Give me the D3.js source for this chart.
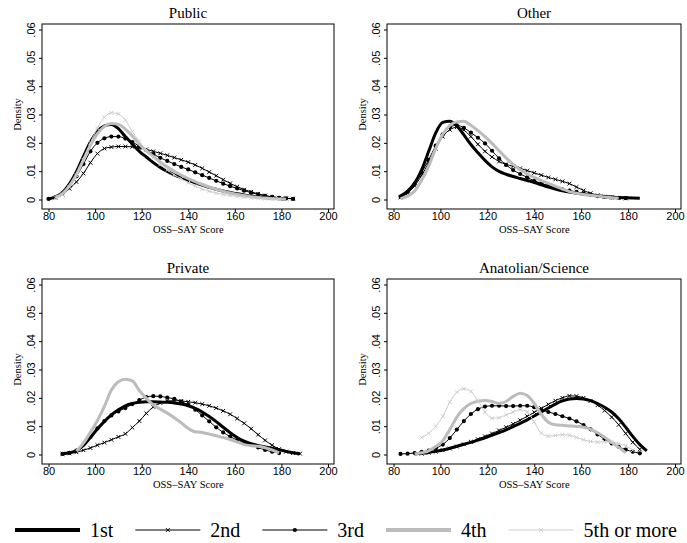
<!DOCTYPE html>
<html>
<head>
<meta charset="utf-8">
<script src="https://cdn.jsdelivr.net/npm/d3@7"></script>
<style>
  body { margin: 0; background: #fff; }
  svg { display: block; font-family: "Liberation Serif", "Times New Roman", serif; }
</style>
</head>
<body>
<script>
// kernel density of OSS-SAY score by school type and attempt number
const W = 687, H = 543;

// evaluation points (score), shared by every series; null = outside series range
const GRID = [80, 83, 86, 89, 92, 95, 98, 101, 104, 107, 110, 113, 116, 119, 122, 125, 128, 131, 134, 137,
              140, 143, 146, 149, 152, 155, 158, 161, 164, 167, 170, 173, 176, 179, 182, 185, 188];

const panelTitles = ["Public", "Other", "Private", "Anatolian/Science"];
const seriesLabels = ["1st", "2nd", "3rd", "4th", "5th or more"];
const xTicks = [80, 100, 120, 140, 160, 180, 200];
const yTicks = [0, 0.01, 0.02, 0.03, 0.04, 0.05, 0.06];
const yTickLabels = ["0", ".01", ".02", ".03", ".04", ".05", ".06"];

// ── Public ────────────────────────────────────────────────────────────────
const public1 = [.0002,.0009,.0024,.0055,.0098,.0152,.0203,.0240,.0260,.0265,.0250,.0222,.0196,.0170,.0150,.0130,.0113,.0099,.0087,.0077,.0068,.0059,.0051,.0043,.0036,.0030,.0025,.0020,.0016,.0012,.0009,.0007,.0005,.0003,.0002,null,null];
const public2 = [null,.0006,.0018,.0038,.0062,.0092,.0130,.0162,.0180,.0185,.0187,.0187,.0186,.0182,.0177,.0170,.0163,.0156,.0148,.0140,.0132,.0122,.0110,.0097,.0084,.0070,.0057,.0045,.0035,.0027,.0020,.0014,.0009,.0006,.0004,.0003,null];
const public3 = [.0002,.0008,.0022,.0047,.0082,.0125,.0170,.0200,.0216,.0222,.0222,.0215,.0203,.0188,.0174,.0160,.0147,.0136,.0125,.0115,.0106,.0096,.0086,.0076,.0066,.0056,.0047,.0039,.0031,.0024,.0018,.0013,.0009,.0006,.0004,.0002,null];
const public4 = [null,.0008,.0021,.0048,.0088,.0140,.0192,.0232,.0258,.0268,.0265,.0248,.0224,.0195,.0172,.0152,.0132,.0115,.0100,.0086,.0074,.0063,.0053,.0044,.0036,.0029,.0023,.0018,.0014,.0010,.0007,.0005,.0003,.0002,.0001,null,null];
const public5 = [null,.0006,.0018,.0044,.0085,.0140,.0200,.0252,.0290,.0306,.0302,.0280,.0240,.0205,.0175,.0148,.0124,.0104,.0087,.0073,.0059,.0047,.0037,.0029,.0023,.0018,.0014,.0011,.0008,.0006,.0004,.0003,.0002,.0001,null,null,null];

// ── Other ─────────────────────────────────────────────────────────────────
const other1 = [null,.0012,.0030,.0058,.0105,.0170,.0235,.0272,.0276,.0260,.0228,.0194,.0165,.0138,.0115,.0099,.0089,.0081,.0074,.0067,.0060,.0052,.0044,.0037,.0031,.0026,.0022,.0019,.0016,.0013,.0011,.0009,.0007,.0006,.0005,.0004,null];
const other2 = [null,.0008,.0022,.0048,.0085,.0130,.0180,.0222,.0246,.0255,.0245,.0222,.0195,.0170,.0150,.0134,.0124,.0117,.0110,.0102,.0094,.0086,.0078,.0071,.0064,.0056,.0044,.0032,.0022,.0015,.0010,.0007,.0005,.0004,null,null,null];
const other3 = [null,.0010,.0026,.0055,.0095,.0140,.0190,.0230,.0255,.0262,.0253,.0236,.0218,.0198,.0172,.0145,.0122,.0104,.0090,.0078,.0066,.0057,.0049,.0042,.0036,.0031,.0027,.0022,.0017,.0012,.0009,.0007,.0006,.0005,null,null,null];
const other4 = [null,.0003,.0012,.0030,.0068,.0118,.0180,.0230,.0262,.0274,.0276,.0262,.0243,.0222,.0198,.0172,.0147,.0124,.0105,.0090,.0078,.0067,.0057,.0047,.0037,.0028,.0022,.0018,.0015,.0012,.0009,.0006,.0004,null,null,null,null];

// ── Private ───────────────────────────────────────────────────────────────
const private1 = [null,null,.0002,.0006,.0014,.0032,.0060,.0090,.0117,.0140,.0158,.0172,.0180,.0184,.0186,.0186,.0185,.0184,.0182,.0178,.0172,.0163,.0150,.0134,.0116,.0096,.0077,.0060,.0047,.0038,.0032,.0027,.0022,.0017,.0011,.0006,.0003];
const private2 = [null,null,.0002,.0004,.0008,.0015,.0023,.0033,.0042,.0052,.0062,.0073,.0095,.0118,.0145,.0168,.0182,.0189,.0190,.0189,.0186,.0183,.0178,.0172,.0164,.0154,.0142,.0127,.0110,.0091,.0070,.0050,.0033,.0019,.0010,.0005,.0003];
const private3 = [null,null,.0002,.0006,.0014,.0035,.0062,.0092,.0118,.0138,.0152,.0164,.0178,.0192,.0203,.0206,.0205,.0201,.0196,.0187,.0175,.0158,.0138,.0117,.0096,.0078,.0063,.0051,.0042,.0034,.0025,.0016,.0010,.0005,null,null,null];
const private4 = [null,null,null,null,.0012,.0040,.0078,.0120,.0170,.0228,.0257,.0266,.0260,.0226,.0198,.0175,.0160,.0146,.0130,.0112,.0092,.0080,.0078,.0072,.0066,.0060,.0053,.0044,.0035,.0031,.0029,.0024,.0016,.0006,null,null,null];

// ── Anatolian/Science ─────────────────────────────────────────────────────
const anat1 = [null,null,null,.0002,.0004,.0007,.0011,.0016,.0022,.0029,.0036,.0043,.0051,.0059,.0068,.0077,.0087,.0098,.0110,.0122,.0136,.0150,.0164,.0178,.0189,.0196,.0198,.0196,.0190,.0180,.0167,.0150,.0126,.0096,.0064,.0035,.0013];
const anat2 = [null,null,null,null,.0003,.0006,.0010,.0015,.0021,.0028,.0036,.0045,.0054,.0064,.0074,.0085,.0096,.0108,.0121,.0135,.0149,.0163,.0177,.0190,.0200,.0207,.0206,.0200,.0189,.0174,.0155,.0132,.0105,.0074,.0043,.0018,null];
const anat3 = [null,.0002,.0003,.0005,.0009,.0014,.0022,.0035,.0058,.0088,.0118,.0143,.0160,.0169,.0172,.0172,.0171,.0171,.0172,.0172,.0167,.0158,.0150,.0143,.0135,.0127,.0117,.0104,.0089,.0071,.0054,.0039,.0027,.0017,.0010,.0004,null];
const anat4 = [null,null,null,.0002,.0006,.0013,.0028,.0048,.0088,.0132,.0162,.0180,.0188,.0191,.0187,.0180,.0187,.0205,.0216,.0208,.0180,.0142,.0114,.0105,.0103,.0101,.0099,.0096,.0089,.0077,.0061,.0043,.0025,.0006,null,null,null];
const anat5 = [null,null,null,null,.0060,.0075,.0100,.0135,.0185,.0220,.0232,.0222,.0190,.0150,.0128,.0130,.0140,.0150,.0158,.0150,.0115,.0075,.0065,.0067,.0070,.0068,.0060,.0052,.0046,.0044,.0045,.0044,.0038,.0030,.0015,null,null];

// one entry per panel, series in legend order (null = group not shown)
const panelSeries = [
    [public1, public2, public3, public4, public5],
    [other1, other2, other3, other4, null],
    [private1, private2, private3, private4, null],
    [anat1, anat2, anat3, anat4, anat5],
];

const STYLES = [
    { stroke: "#000",    width: 3,   marker: null },
    { stroke: "#000",    width: 1,   marker: "x" },
    { stroke: "#000",    width: 1,   marker: "dot" },
    { stroke: "#bcbcbc", width: 3,   marker: null },
    { stroke: "#cdcdcd", width: 1,   marker: "x" },
];

// plot-region boxes
const COLS = [{ x0: 42, x1: 334 }, { x0: 387, x1: 681 }];
const ROWS = [{ y0: 24, y1: 209 }, { y0: 279, y1: 464 }];

const svg = d3.select("body").append("svg")
    .attr("width", W).attr("height", H);

function drawMarkers(g, pts, style) {
    if (style.marker === "dot") {
        g.selectAll("circle").data(pts).join("circle")
            .attr("cx", d => d[0]).attr("cy", d => d[1])
            .attr("r", 2.1).attr("fill", style.stroke);
    } else if (style.marker === "x") {
        const s = 1.9;
        g.selectAll("path.mk").data(pts).join("path")
            .attr("class", "mk")
            .attr("d", d => `M${d[0]-s},${d[1]-s}L${d[0]+s},${d[1]+s}M${d[0]-s},${d[1]+s}L${d[0]+s},${d[1]-s}`)
            .attr("stroke", style.stroke).attr("stroke-width", 1).attr("fill", "none");
    }
}

panelTitles.forEach((title, p) => {
    const col = COLS[p % 2], row = ROWS[Math.floor(p / 2)];
    const x = d3.scaleLinear().domain([80, 200]).range([col.x0 + 6.5, col.x1 - 6]);
    const y = d3.scaleLinear().domain([0, 0.06]).range([row.y1 - 9.5, row.y0 + 5.5]);
    const g = svg.append("g");

    // y axis
    const ya = g.append("g").attr("transform", `translate(${col.x0},0)`)
        .call(d3.axisLeft(y).tickValues(yTicks).tickSize(3).tickFormat((d, i) => yTickLabels[i]));
    ya.select(".domain").remove();
    ya.selectAll(".tick line").attr("stroke", "#000");
    ya.selectAll(".tick text")
        .attr("x", 0).attr("y", 0).attr("dy", 0)
        .attr("transform", "translate(-7,0) rotate(-90)")
        .attr("text-anchor", "middle")
        .attr("font-size", 11).attr("font-family", null).attr("fill", "#000");

    // x axis
    const xa = g.append("g").attr("transform", `translate(0,${row.y1})`)
        .call(d3.axisBottom(x).tickValues(xTicks).tickSize(3));
    xa.select(".domain").remove();
    xa.selectAll(".tick line").attr("stroke", "#000");
    xa.selectAll(".tick text")
        .attr("y", 11).attr("dy", 0)
        .attr("font-size", 11).attr("font-family", null).attr("fill", "#000");

    // frame
    g.append("rect")
        .attr("x", col.x0).attr("y", row.y0)
        .attr("width", col.x1 - col.x0).attr("height", row.y1 - row.y0)
        .attr("fill", "none").attr("stroke", "#000").attr("stroke-width", 1);

    // titles
    g.append("text")
        .attr("x", (col.x0 + col.x1) / 2).attr("y", row.y0 - 6)
        .attr("text-anchor", "middle").attr("font-size", 15)
        .text(title);
    g.append("text")
        .attr("x", (x.range()[0] + x.range()[1]) / 2).attr("y", row.y1 + 23.5)
        .attr("text-anchor", "middle").attr("font-size", 10.5)
        .text("OSS\u2013SAY Score");
    const yMid = (y.range()[0] + y.range()[1]) / 2;
    g.append("text")
        .attr("transform", `translate(${col.x0 - 21.5},${yMid}) rotate(-90)`)
        .attr("text-anchor", "middle").attr("font-size", 10.5)
        .text("Density");

    // curves
    const line = d3.line()
        .defined(d => d.v != null)
        .x(d => x(d.s)).y(d => y(d.v))
        .curve(d3.curveMonotoneX);

    panelSeries[p].forEach((vals, k) => {
        if (!vals) return;
        const st = STYLES[k];
        const data = GRID.map((s, i) => ({ s, v: vals[i] }));
        const sg = g.append("g");
        sg.append("path")
            .datum(data)
            .attr("d", line)
            .attr("fill", "none")
            .attr("stroke", st.stroke)
            .attr("stroke-width", st.width)
            .attr("stroke-linejoin", "round");
        if (st.marker) {
            const pts = data.filter(d => d.v != null).map(d => [x(d.s), y(d.v)]);
            drawMarkers(sg, pts, st);
        }
    });
});

// ── Legend ────────────────────────────────────────────────────────────────
const legY = 530;
let lx = 15;
seriesLabels.forEach((label, k) => {
    const st = STYLES[k];
    const lg = svg.append("g");
    lg.append("line")
        .attr("x1", lx).attr("x2", lx + 65)
        .attr("y1", legY).attr("y2", legY)
        .attr("stroke", st.stroke)
        .attr("stroke-width", st.width === 3 ? 4 : 1);
    if (st.marker) drawMarkers(lg, [[lx + 32.5, legY]], st);
    const t = lg.append("text")
        .attr("x", lx + 75).attr("y", legY + 7)
        .attr("font-size", 20)
        .text(label);
    lx += 75 + t.node().getComputedTextLength() + 22;
});
</script>
</body>
</html>
